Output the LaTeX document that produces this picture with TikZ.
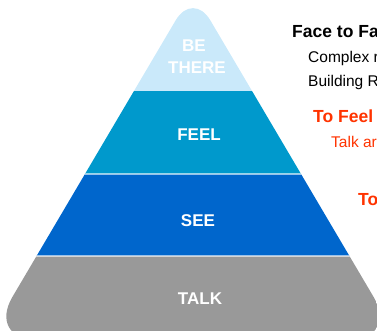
\documentclass[tikz,border=0pt]{standalone}
\usepackage{fontspec}
\setmainfont{Liberation Sans}
\definecolor{bethere}{RGB}{202,233,250}
\definecolor{feel}{RGB}{0,153,204}
\definecolor{see}{RGB}{0,102,204}
\definecolor{talk}{RGB}{153,153,153}
\definecolor{accent}{RGB}{255,51,0}
\tikzset{
  level/.style={text=white,font=\fontsize{17}{18}\selectfont\bfseries,inner sep=0pt,anchor=center},
  heading/.style={anchor=base west,inner sep=0pt,font=\fontsize{17.5}{19}\selectfont\bfseries},
  detail/.style={anchor=base west,inner sep=0pt,font=\fontsize{15.5}{17}\selectfont},
  sep/.style={draw=white,draw opacity=0.6,line width=1.2pt}
}
\begin{document}
\begin{tikzpicture}[x=1pt,y=-1pt]
\useasboundingbox (0,0) rectangle (377,331);
\clip (0,0) rectangle (377,331);
\begin{scope}
  \clip (175.7,20.3) .. controls (185.25,4.1) and (200.75,4.1) .. (210.3,20.3)
    -- (373.6,296.95) .. controls (387.6,320.7) and (376.6,340) .. (349,340)
    -- (37,340) .. controls (9.4,340) and (-1.6,320.7) .. (12.4,296.95) -- cycle;
  \fill[bethere] (-20,-20) rectangle (400,91);
  \fill[feel] (-20,91) rectangle (400,174);
  \fill[see] (-20,174) rectangle (400,256);
  \fill[talk] (-20,256) rectangle (400,350);
  \draw[sep] (-20,174) -- (400,174);
  \draw[sep] (-20,256) -- (400,256);
\end{scope}
\node[level] (be) at (194,46) {BE};
\node[level] (there) at (197,68) {THERE};
\node[level] (feeltxt) at (199,135) {FEEL};
\node[level] (seetxt) at (198,221) {SEE};
\node[level] (talktxt) at (200,299) {TALK};
\node[heading] (face) at (292,38) {Face to Fa};
\node[detail] (complex) at (308,63) {Complex r};
\node[detail] (building) at (308,87) {Building R};
\node[heading,text=accent] (tofeel) at (313,123) {To Feel};
\node[detail,text=accent] (talkand) at (331,148) {Talk ar};
\node[heading,text=accent] (to) at (358,205) {To};
\end{tikzpicture}
\end{document}
